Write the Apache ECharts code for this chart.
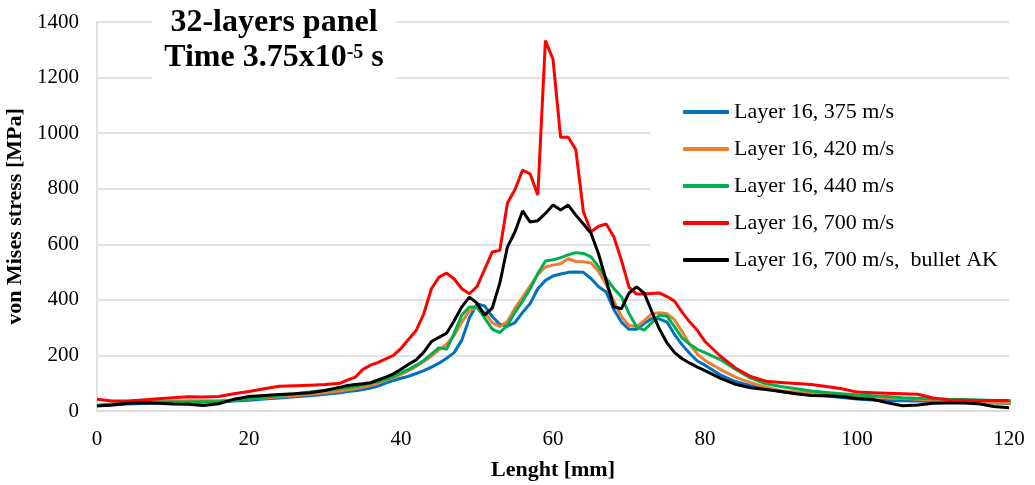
<!DOCTYPE html>
<html>
<head>
<meta charset="utf-8">
<script src="https://cdn.jsdelivr.net/npm/echarts@6/dist/echarts.min.js"></script>
<style>
html,body{margin:0;padding:0;background:#fff;}
#chart{width:1035px;height:485px;}
</style>
</head>
<body>
<div id="chart"></div>
<script>
// shared x positions (mm)
const xMm = [
  0,2,4,6,8,10,12,14,16,18,20,22,24,26,28,30,32,
  33,34,35,36,37,38,39,40,
  41,42,43,44,45,46,47,48,49,50,
  51,52,53,54,55,56,57,58,59,60,
  61,62,63,64,65,66,67,68,69,70,
  71,72,73,74,75,76,77,78,79,80,
  82,84,86,88,90,92,94,96,98,100,102,104,106,108,110,112,114,116,118,120,
  122,123
];
const seriesNames = ['Layer 16, 375 m/s','Layer 16, 420 m/s','Layer 16, 440 m/s','Layer 16, 700 m/s','Layer 16, 700 m/s,  bullet AK'];
const v375 = [
  20,22,25,27,29,30,31,32,34,36,39,43,47,51,55,60,66,
  70,73,77,83,90,100,110,118,
  125,135,145,158,172,190,210,255,335,385,
  378,340,312,305,318,355,387,440,470,486,
  493,499,500,499,477,447,428,365,320,294,
  294,315,333,332,320,275,238,207,180,165,
  130,106,91,80,70,63,58,54,49,43,40,38,37,36,35,34,32,31,29,27,
  22,19
];
const v420 = [
  20,24,28,32,34,36,37,37,38,40,43,47,51,55,60,66,72,
  76,80,86,92,100,110,120,132,
  145,160,178,198,220,240,272,320,360,374,
  355,318,304,322,370,410,450,492,518,525,
  530,548,538,537,533,502,455,395,340,308,
  304,325,350,354,350,328,285,240,205,182,
  150,122,102,86,73,68,64,61,57,54,52,48,45,42,40,38,35,33,30,28,
  24,22
];
const v440 = [
  20,25,30,32,32,32,32,33,33,38,43,49,56,62,68,75,81,
  84,88,94,100,106,114,124,138,
  150,165,182,205,228,222,280,345,374,374,
  335,295,282,308,355,395,440,495,540,544,
  552,562,570,567,555,519,477,441,411,351,
  303,291,318,345,341,303,262,240,222,210,
  185,150,118,98,88,80,72,67,62,58,55,52,48,46,44,42,41,40,38,37,
  33,30
];
const v700 = [
  42,36,36,40,44,48,51,50,52,62,70,80,89,91,93,95,100,
  112,122,150,165,175,188,200,225,
  258,290,350,440,482,496,475,440,422,448,
  510,572,578,748,797,867,853,777,1333,1266,
  985,985,941,717,645,665,673,627,543,446,
  421,421,423,425,412,395,355,320,290,250,
  198,155,124,107,103,99,95,88,80,68,66,64,62,60,47,40,39,38,38,38
];
const v700AK = [
  18,22,28,30,28,25,24,20,26,42,52,56,59,62,66,74,86,
  92,95,98,102,112,122,134,150,
  168,184,212,250,265,280,325,375,410,388,
  345,370,460,590,645,720,680,685,711,741,
  723,741,705,673,640,565,470,375,368,424,
  447,424,358,295,245,210,188,172,158,145,
  118,96,84,77,70,62,56,55,52,45,42,30,19,22,28,29,29,26,16,12
];
const xTicks = [0,20,40,60,80,100,120];
const yTicks = [0,200,400,600,800,1000,1200,1400];
const colors = ['#0070C0','#ED7D31','#00B050','#FF0000','#000000'];

function pairs(vals){ return vals.map((v,i)=>[xMm[i], v]); }
const allVals = [v375, v420, v440, v700, v700AK];

const serif = 'Liberation Serif, Times New Roman, serif';
const chart = echarts.init(document.getElementById('chart'), null, {renderer:'canvas'});
chart.setOption({
  animation:false,
  backgroundColor:'#fff',
  title:{
    text:'{a|32-layers panel}\n{a|Time 3.75x10}{sup|-5}{a| s}',
    left:262, top:0, textAlign:'center',
    backgroundColor:'#fff',
    padding:[5,12,8,12],
    textStyle:{
      rich:{
        a:{fontFamily:serif,fontWeight:'bold',fontSize:32,lineHeight:35,color:'#000'},
        sup:{fontFamily:serif,fontWeight:'bold',fontSize:20,lineHeight:20,verticalAlign:'top',color:'#000',padding:[3,0,0,0]}
      }
    }
  },
  legend:{
    orient:'vertical', left:650, top:90,
    backgroundColor:'#fff',
    padding:[11,20,10,33],
    itemWidth:46, itemHeight:4, itemGap:15,
    icon:'roundRect',
    data:seriesNames,
    textStyle:{fontFamily:serif,fontSize:22,color:'#000'}
  },
  grid:{left:97,right:26,top:22,bottom:74,containLabel:false,outerBoundsMode:'none'},
  xAxis:{
    type:'value', min:0, max:120, interval:20,
    name:'Lenght [mm]', nameLocation:'middle', nameGap:48,
    nameTextStyle:{fontFamily:serif,fontWeight:'bold',fontSize:22,color:'#000'},
    axisLine:{show:true,lineStyle:{color:'#d9d9d9',width:1.5}},
    axisTick:{show:false},
    splitLine:{show:false},
    axisLabel:{fontFamily:serif,fontSize:21,color:'#000',margin:18,
      formatter:(v)=> xTicks.includes(v) ? String(v) : ''}
  },
  yAxis:{
    type:'value', min:0, max:1400, interval:200,
    name:'von Mises stress [MPa]', nameLocation:'middle', nameGap:66,
    nameTextStyle:{fontFamily:serif,fontWeight:'bold',fontSize:22,color:'#000'},
    axisLine:{show:true,lineStyle:{color:'#d9d9d9',width:1.5}},
    axisTick:{show:false},
    splitLine:{show:true,lineStyle:{color:'#d9d9d9',width:1.5}},
    axisLabel:{fontFamily:serif,fontSize:21,color:'#000',margin:18,
      formatter:(v)=> yTicks.includes(v) ? String(v) : ''}
  },
  series: allVals.map((vals,i)=>({
    name:seriesNames[i], type:'line', data:pairs(vals),
    showSymbol:false, symbol:'none', clip:false,
    lineStyle:{color:colors[i],width:3},
    itemStyle:{color:colors[i]},
    z: 2+i
  }))
});
</script>
</body>
</html>
